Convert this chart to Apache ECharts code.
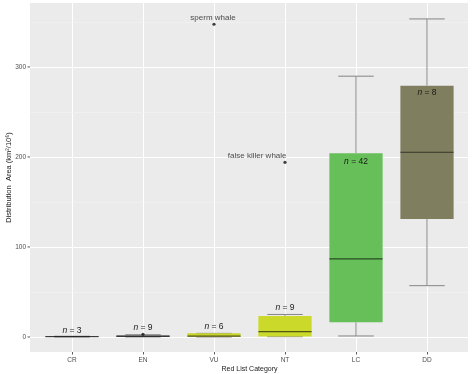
<!DOCTYPE html>
<html>
<head>
<meta charset="utf-8">
<script src="https://cdn.jsdelivr.net/npm/echarts@6/dist/echarts.min.js"></script>
<style>html,body{margin:0;padding:0;background:#fff}#chart{width:474px;height:374px}</style>
</head>
<body>
<div id="chart"></div>
<script>
// ---- data ----
const categories = ['CR', 'EN', 'VU', 'NT', 'LC', 'DD'];
const boxMin    = [0,   0,   0,   0.3, 1.1,   57];
const boxQ1     = [0.1, 0.3, 0.3, 0.6, 16.3,  131];
const boxMedian = [0.3, 0.8, 1,   6,   86.7,  205.2];
const boxQ3     = [0.5, 1.5, 4,   23.3, 204,  279.2];
const boxMax    = [0.8, 2.5, 4,   25,  289.7, 353.3];
const sampleSizes = [3, 9, 6, 9, 42, 8];
const sizeLabelValues = [7, 10.3, 11.4, 32.6, 194.8, 271.4];
const outlierCategories = ['EN', 'VU', 'NT'];
const outlierValues = [3, 347.4, 194];
const outlierNames = ['', 'sperm whale', 'false killer whale'];
const yTicks = [0, 100, 200, 300];
const yMinorLines = [50, 150, 250, 350];
const yRange = [-16.7, 371];

// ---- style ----
const fillColors = ['#3a3a3a', '#3a3a3a', '#C9D431', '#CBD92A', '#66BF58', '#7F7F5F'];
const FONT = 'Liberation Sans, Arial, sans-serif';

const boxData = categories.map((c, i) => [i, boxMin[i], boxQ1[i], boxMedian[i], boxQ3[i], boxMax[i]]);
const sizeLabelData = categories.map((c, i) => [i, sizeLabelValues[i], sampleSizes[i]]);
const outlierData = outlierCategories.map((c, k) => ({
  value: [categories.indexOf(c), outlierValues[k]],
  name: outlierNames[k],
  label: k === 2 ? { align: 'right', offset: [1.5, 0] } : { offset: [-1, 0] }
}));

const chart = echarts.init(document.getElementById('chart'), null, { renderer: 'canvas' });
chart.setOption({
  animation: false,
  backgroundColor: '#ffffff',
  grid: [
    { left: 72, right: 47, top: 3, bottom: 22, containLabel: false, outerBoundsMode: 'none' },
    { left: 30, right: 6, top: 3, bottom: 22, show: true, backgroundColor: '#EBEBEB', borderWidth: 0,
      containLabel: false, outerBoundsMode: 'none' }
  ],
  xAxis: [
    {
      type: 'category', gridIndex: 0, data: categories, boundaryGap: false, position: 'bottom',
      axisLine: { show: false, onZero: false },
      axisTick: { show: true, length: 2.5, lineStyle: { color: '#333333', width: 0.8 } },
      axisLabel: { color: '#4D4D4D', fontSize: 6.5, fontFamily: FONT, margin: 5 },
      splitLine: { show: true, lineStyle: { color: '#ffffff', width: 1 } },
      name: 'Red List Category', nameLocation: 'middle', nameGap: 14, nameMoveOverlap: false,
      nameTextStyle: { color: '#1a1a1a', fontSize: 7, fontFamily: FONT }
    },
    { type: 'value', gridIndex: 1, show: false, min: 0, max: 1 }
  ],
  yAxis: [
    { type: 'value', gridIndex: 0, show: false, min: yRange[0], max: yRange[1], splitLine: { show: false } },
    {
      type: 'value', gridIndex: 1, min: yRange[0], max: yRange[1],
      axisLine: { show: false, onZero: false },
      axisTick: { show: false },
      axisLabel: {
        color: '#4D4D4D', fontSize: 6.5, fontFamily: FONT, margin: 4,
        formatter: v => (yTicks.indexOf(Math.round(v * 1000) / 1000) >= 0 ? String(v) : '')
      },
      splitLine: { show: false },
      name: 'Distribution  Area (km\u00B2/10\u2076)', nameLocation: 'middle', nameGap: 17, nameMoveOverlap: false,
      nameTextStyle: { color: '#1a1a1a', fontSize: 7.5, fontFamily: FONT }
    }
  ],
  series: [
    {
      type: 'line', xAxisIndex: 1, yAxisIndex: 1, data: [], silent: true, z: 1, showSymbol: false,
      markLine: {
        silent: true, symbol: ['none', 'none'], label: { show: false }, z: 1,
        data: yTicks.map(v => ({ yAxis: v, lineStyle: { color: '#ffffff', width: 1, type: 'solid' } }))
          .concat(yMinorLines.map(v => ({ yAxis: v, lineStyle: { color: '#F4F4F4', width: 0.6, type: 'solid' } })))
      }
    },
    {
      type: 'custom', xAxisIndex: 1, yAxisIndex: 1, silent: true, z: 1,
      data: yTicks.map(v => [0, v]),
      renderItem: (params, api) => {
        const p = api.coord([0, api.value(1)]);
        return { type: 'line', shape: { x1: p[0] - 2.5, y1: p[1], x2: p[0], y2: p[1] },
                 style: { stroke: '#333333', lineWidth: 0.8 } };
      }
    },
    {
      type: 'custom', xAxisIndex: 0, yAxisIndex: 0, silent: true, z: 3,
      data: boxData,
      encode: { x: 0, y: [1, 2, 3, 4, 5] },
      renderItem: (params, api) => {
        const i = api.value(0);
        const step = api.size([1, 0])[0];
        const x = api.coord([i, api.value(3)])[0];
        const bw = step * 0.75, cw = step * 0.5;
        const yMn = api.coord([i, api.value(1)])[1];
        const yQ1 = api.coord([i, api.value(2)])[1];
        const yMd = api.coord([i, api.value(3)])[1];
        const yQ3 = api.coord([i, api.value(4)])[1];
        const yMx = api.coord([i, api.value(5)])[1];
        const wStyle = { stroke: '#858585', lineWidth: 1 };
        return {
          type: 'group',
          children: [
            { type: 'line', shape: { x1: x, y1: yMx, x2: x, y2: yQ3 }, style: wStyle },
            { type: 'line', shape: { x1: x, y1: yQ1, x2: x, y2: yMn }, style: wStyle },
            { type: 'line', shape: { x1: x - cw / 2, y1: yMx, x2: x + cw / 2, y2: yMx }, style: wStyle },
            { type: 'line', shape: { x1: x - cw / 2, y1: yMn, x2: x + cw / 2, y2: yMn }, style: wStyle },
            { type: 'rect', shape: { x: x - bw / 2, y: yQ3, width: bw, height: Math.max(yQ1 - yQ3, 0.5) },
              style: { fill: fillColors[i] } },
            { type: 'line', shape: { x1: x - bw / 2, y1: yMd, x2: x + bw / 2, y2: yMd },
              style: { stroke: 'rgba(0,0,0,0.6)', lineWidth: 1.2 } }
          ]
        };
      }
    },
    {
      type: 'scatter', xAxisIndex: 0, yAxisIndex: 0, silent: true, z: 4,
      data: outlierData, symbolSize: 3.2,
      itemStyle: { color: '#111111' },
      label: {
        show: true, position: 'top', distance: 1,
        formatter: p => p.name, color: '#1a1a1a', fontSize: 8, fontFamily: FONT
      }
    },
    {
      type: 'custom', xAxisIndex: 0, yAxisIndex: 0, silent: true, z: 5,
      data: sizeLabelData,
      encode: { x: 0, y: 1 },
      renderItem: (params, api) => {
        const p = api.coord([api.value(0), api.value(1)]);
        return {
          type: 'text', x: p[0], y: p[1],
          style: {
            text: '{i|n} = ' + api.value(2),
            align: 'center', verticalAlign: 'middle',
            fill: '#1a1a1a', fontSize: 8.5, fontFamily: FONT,
            rich: { i: { fontStyle: 'italic', fontSize: 8.5, fontFamily: FONT, fill: '#1a1a1a' } }
          }
        };
      }
    }
  ]
});
</script>
</body>
</html>
